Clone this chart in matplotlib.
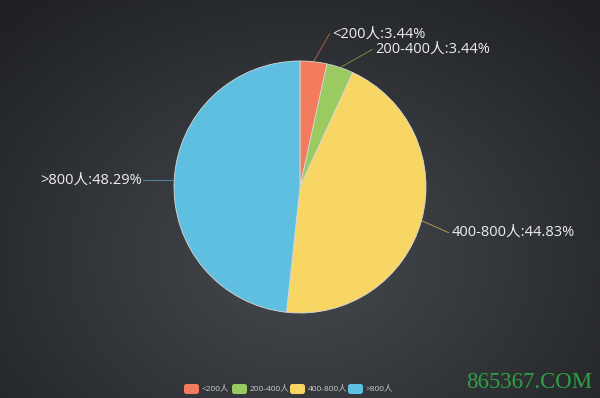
import numpy as np
import matplotlib
matplotlib.use("Agg")
from matplotlib import pyplot as plt
from matplotlib.patches import FancyBboxPatch

plt.rcParams['font.family'] = ['Open Sans', 'Noto Sans CJK SC', 'DejaVu Sans']

# data
categories = ['<200人', '200-400人', '400-800人', '>800人']
percents = [3.44, 3.44, 44.83, 48.29]
colors = ['#f47c5e', '#9bca61', '#f8d664', '#5ebfe0']

W, H = 600, 398
fig = plt.figure(figsize=(W / 100, H / 100), dpi=100)
ax = fig.add_axes([0, 0, 1, 1])
ax.set_xlim(0, W)
ax.set_ylim(0, H)
ax.axis('off')

# radial gradient background
yy, xx = np.mgrid[0:H, 0:W]
d = np.sqrt(((xx - 300) / 420.0) ** 2 + ((yy - 140) / 330.0) ** 2)
d = np.clip(d, 0, 1)
c_in = np.array([0x46, 0x49, 0x4f]) / 255
c_out = np.array([0x1f, 0x21, 0x24]) / 255
img = c_in[None, None, :] * (1 - d[..., None]) + c_out[None, None, :] * d[..., None]
ax.imshow(img, extent=[0, W, 0, H], origin='lower', zorder=0, aspect='auto')

cx, cy, r = 300, 211, 126
wedges, _ = ax.pie(percents, colors=colors, center=(cx, cy), radius=r,
                   startangle=90, counterclock=False,
                   wedgeprops=dict(linewidth=0.6, edgecolor='#d9d9d9'))
for w in wedges:
    w.set_zorder(2)
ax.set_xlim(0, W)
ax.set_ylim(0, H)
ax.set_aspect('auto')

# label leader-line end offsets (from slice edge) and alignment
offsets = [(16, 28), (32, 18), (27, -12), (-31, 0)]
aligns = ['left', 'left', 'left', 'right']
for w, cat, p, col, off, ha in zip(wedges, categories, percents, colors, offsets, aligns):
    mid = np.deg2rad((w.theta1 + w.theta2) / 2)
    x0, y0 = cx + r * np.cos(mid), cy + r * np.sin(mid)
    x1, y1 = x0 + off[0], y0 + off[1]
    ax.plot([x0, x1], [y0, y1], color=col, lw=0.6, alpha=0.7, zorder=1)
    tx = x1 + (3 if ha == 'left' else -1)
    ax.text(tx, y1, f'{cat}:{p:.2f}%', color='#eeeeee', fontsize=10.5,
            ha=ha, va='center', zorder=3)

# legend
lx = [184, 232, 290, 348]
for x, cat, col in zip(lx, categories, colors):
    box = FancyBboxPatch((x, 4), 15, 10, boxstyle='round,pad=0,rounding_size=2.5',
                         facecolor=col, edgecolor='none', zorder=3)
    ax.add_patch(box)
    ax.text(x + 18, 9, cat, color='#cccccc', fontsize=6, ha='left', va='center', zorder=3)

# watermark
ax.text(592, 15, '865367.COM', color='#2ea043', fontsize=16.5,
        family='Liberation Serif', ha='right', va='center', zorder=3)

fig.savefig('out.png', dpi=100)
